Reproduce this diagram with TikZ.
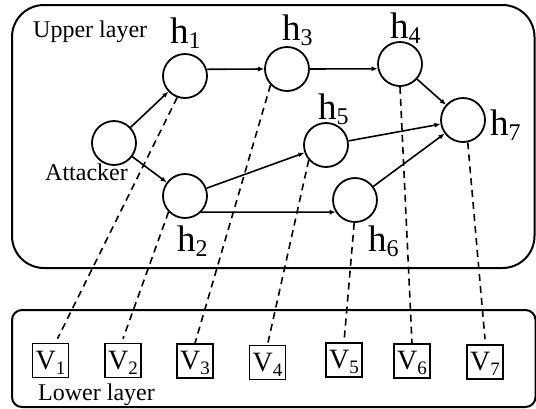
\documentclass[tikz,border=0pt]{standalone}
\usepackage{fontspec}
\setmainfont{Liberation Serif}
\usetikzlibrary{arrows.meta}
\newcommand{\hlab}[1]{\fontsize{37}{37}\selectfont h\raisebox{-5pt}{\fontsize{24}{24}\selectfont #1}}
\newcommand{\vlab}[1]{\fontsize{28}{28}\selectfont V\raisebox{-5pt}[0pt][0pt]{\fontsize{19}{19}\selectfont #1}}
\tikzset{
  host/.style={circle, draw, line width=1.8pt, minimum size=44pt, inner sep=0pt},
  vbox/.style={draw, line width=1.6pt, minimum width=36pt, minimum height=34pt, inner sep=0pt},
  arr/.style={-{Latex[length=6pt,width=5pt]}, line width=1.6pt},
  dsh/.style={dash pattern=on 7pt off 5pt, line width=1.6pt},
  layerbox/.style={draw, line width=2pt},
  txt/.style={inner sep=0pt, anchor=base west, font=\fontsize{24}{24}\selectfont},
  hl/.style={inner sep=0pt, anchor=base west}
}
\begin{document}
\begin{tikzpicture}[x=1pt,y=-1pt]
\useasboundingbox (0,0) rectangle (536,408);
% layers
\draw[layerbox, rounded corners=32pt] (12,5) rectangle (534.5,268);
\draw[layerbox, rounded corners=10pt] (12,310) rectangle (535.5,407);
% hosts
\node[host] (A) at (114,143) {};
\node[host] (h1) at (185,76) {};
\node[host] (h2) at (185,196) {};
\node[host] (h3) at (287,69) {};
\node[host] (h4) at (400,64) {};
\node[host] (h5) at (326,145) {};
\node[host] (h6) at (355,200) {};
\node[host] (h7) at (463,120) {};
% labels
\node[txt] (ul) at (33,37) {Upper layer};
\node[txt] (att) at (45,180) {Attacker};
\node[txt] (ll) at (38,400) {Lower layer};
\node[hl] (l1) at (170,43) {\hlab{1}};
\node[hl] (l2) at (177,251) {\hlab{2}};
\node[hl] (l3) at (282,40) {\hlab{3}};
\node[hl] (l4) at (390,38) {\hlab{4}};
\node[hl] (l5) at (318,119) {\hlab{5}};
\node[hl] (l6) at (368,251) {\hlab{6}};
\node[hl] (l7) at (490,135) {\hlab{7}};
% lower boxes
\node[vbox] (V1) at (50.5,360.5) {\vlab{1}};
\node[vbox] (V2) at (123,360.5) {\vlab{2}};
\node[vbox] (V3) at (195,361) {\vlab{3}};
\node[vbox] (V4) at (267.5,362.5) {\vlab{4}};
\node[vbox] (V5) at (344,360) {\vlab{5}};
\node[vbox] (V6) at (412,361) {\vlab{6}};
\node[vbox] (V7) at (485,362) {\vlab{7}};
% arrows
\draw[arr] (A) -- (h1);
\draw[arr] (A) -- (h2);
\draw[arr] (h1.17) -- (h3.west);
\draw[arr] (h3.east) -- (h4.192);
\draw[arr] (h4) -- (h7);
\draw[arr] (h2) -- (h5);
\draw[arr] (h2.-45) -- (h6.212);
\draw[arr] (h5) -- (h7);
\draw[arr] (h6) -- (h7);
% dashed mapping
\draw[dsh] (h1.250) -- ([xshift=7pt,yshift=4pt]V1.north);
\draw[dsh] (h2.224) -- ([yshift=4pt]V2.north);
\draw[dsh] (h3.224) -- (V3.north);
\draw[dsh] (h5.221) -- (V4.north);
\draw[dsh] (h6.268) -- (V5.north);
\draw[dsh] (h4.270) -- (V6.north);
\draw[dsh] (h7.282) -- ([yshift=5pt]V7.north);
\end{tikzpicture}
\end{document}
